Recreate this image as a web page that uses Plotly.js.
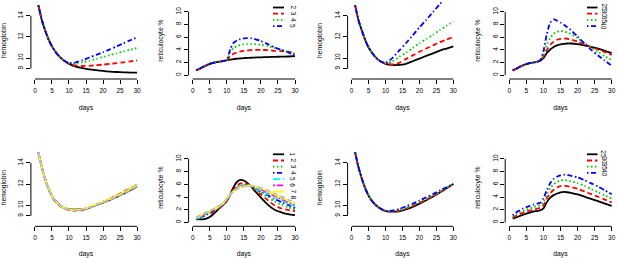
<!DOCTYPE html>
<html><head><meta charset="utf-8">
<script src="https://cdn.plot.ly/plotly-3.0.1.min.js"></script>
<style>html,body{margin:0;padding:0;background:#fff}#chart{width:617px;height:258px}</style>
</head><body><div id="chart"></div>
<script>
// ---------------- DATA ----------------
const daysHb = [1,2,3,4,5,6,7,8,9,10,12,14,16,18,20,22,24,26,28,30];
const daysRet = [1,2,3,4,5,6,7,8,9,10,11,12,13,14,15,16,17,18,20,22,24,26,28,30];

// panel 1 : hemoglobin
const p1Labels = ["2","3","4","5"];
const p1Black = [15.0,13.6,12.6,11.75,11.1,10.6,10.2,9.9,9.65,9.45,9.2,9.05,8.93,8.85,8.78,8.72,8.68,8.65,8.63,8.62];
const p1Red   = [15.0,13.6,12.6,11.75,11.1,10.6,10.2,9.9,9.65,9.47,9.3,9.25,9.27,9.32,9.38,9.45,9.52,9.6,9.68,9.78];
const p1Green = [15.0,13.6,12.6,11.75,11.1,10.6,10.2,9.9,9.66,9.5,9.5,9.6,9.75,9.92,10.1,10.28,10.45,10.62,10.78,10.95];
const p1Blue  = [15.0,13.6,12.6,11.75,11.1,10.6,10.2,9.9,9.67,9.52,9.6,9.8,10.05,10.3,10.55,10.82,11.1,11.4,11.68,11.95];

// panel 2 : reticulocyte
const p2Black = [0.8,1.0,1.3,1.55,1.8,1.95,2.05,2.15,2.25,2.35,2.45,2.55,2.6,2.65,2.7,2.72,2.75,2.78,2.82,2.86,2.9,2.92,2.95,3.0];
const p2Red   = [0.8,1.0,1.3,1.55,1.8,1.95,2.05,2.15,2.25,2.4,3.0,3.4,3.6,3.75,3.85,3.9,3.95,4.0,4.0,3.95,3.85,3.8,3.7,3.4];
const p2Green = [0.8,1.0,1.3,1.55,1.8,1.95,2.05,2.15,2.25,2.4,3.6,4.3,4.6,4.75,4.85,4.9,4.9,4.9,4.8,4.6,4.3,4.0,3.7,3.4];
const p2Blue  = [0.8,1.0,1.3,1.55,1.8,1.95,2.05,2.15,2.25,2.4,4.1,5.1,5.5,5.7,5.8,5.85,5.85,5.75,5.4,4.9,4.4,4.0,3.6,3.1];

// panel 3 : hemoglobin
const p3Black = [15.0,13.6,12.6,11.7,11.0,10.5,10.1,9.8,9.6,9.45,9.35,9.35,9.45,9.7,9.95,10.2,10.45,10.7,10.9,11.1];
const p3Red   = [15.0,13.6,12.6,11.7,11.0,10.5,10.1,9.8,9.6,9.45,9.4,9.55,9.9,10.25,10.6,10.9,11.2,11.5,11.75,12.0];
const p3Green = [15.0,13.6,12.6,11.7,11.0,10.5,10.1,9.8,9.6,9.5,9.7,10.1,10.5,10.95,11.4,11.8,12.2,12.65,13.05,13.45];
const p3Blue  = [15.0,13.6,12.6,11.7,11.0,10.5,10.1,9.8,9.62,9.55,10.0,10.7,11.4,12.15,12.9,13.6,14.35,15.1,15.8,16.5];

// panel 4 : reticulocyte
const p4Labels = ["25","30","35","40"];
const p4Black = [0.75,1.0,1.3,1.55,1.75,1.9,2.0,2.1,2.3,2.7,3.5,4.05,4.45,4.7,4.85,4.95,5.0,5.0,4.9,4.7,4.45,4.2,3.85,3.5];
const p4Red   = [0.75,1.0,1.3,1.55,1.75,1.9,2.0,2.1,2.3,2.9,4.0,4.8,5.3,5.6,5.75,5.8,5.75,5.65,5.3,4.85,4.45,4.05,3.65,3.2];
const p4Green = [0.75,1.0,1.3,1.55,1.75,1.9,2.0,2.1,2.3,3.2,4.8,5.9,6.55,6.85,6.95,6.9,6.75,6.5,5.85,5.1,4.35,3.7,3.0,2.4];
const p4Blue  = [0.75,1.0,1.3,1.55,1.75,1.9,2.0,2.1,2.3,3.8,6.5,8.3,8.8,8.6,8.3,7.95,7.55,7.15,6.1,5.0,4.0,3.1,2.3,1.5];

// panel 5 : hemoglobin, 8 series
const p5S1 = [15.0,13.6,12.45,11.55,10.85,10.4,10.1,9.85,9.7,9.62,9.6,9.62,9.78,10.02,10.25,10.5,10.78,11.08,11.42,11.78];
const p5S2 = [15.0,13.55,12.4,11.5,10.8,10.35,10.05,9.8,9.65,9.55,9.5,9.55,9.78,10.05,10.32,10.62,10.94,11.26,11.6,11.92];
const p5S3 = [15.0,13.6,12.45,11.55,10.85,10.4,10.1,9.85,9.7,9.6,9.55,9.6,9.8,10.05,10.32,10.58,10.88,11.2,11.55,11.98];
const p5S4 = [15.0,13.6,12.45,11.55,10.85,10.4,10.1,9.85,9.7,9.58,9.55,9.6,9.8,10.05,10.3,10.57,10.87,11.17,11.52,11.87];
const p5S5 = [15.0,13.6,12.45,11.55,10.85,10.4,10.1,9.85,9.7,9.6,9.58,9.62,9.8,10.05,10.3,10.55,10.85,11.15,11.5,11.85];
const p5S6 = [15.0,13.6,12.45,11.55,10.85,10.45,10.12,9.86,9.7,9.6,9.57,9.6,9.8,10.06,10.32,10.58,10.88,11.2,11.55,11.9];
const p5S7 = [15.0,13.6,12.45,11.55,10.85,10.4,10.1,9.85,9.7,9.6,9.58,9.62,9.82,10.08,10.34,10.6,10.9,11.22,11.56,11.9];
const p5S8 = [15.0,13.6,12.45,11.55,10.85,10.4,10.1,9.85,9.7,9.6,9.6,9.63,9.79,10.03,10.27,10.52,10.8,11.1,11.44,11.8];

// panel 6 : reticulocyte, 8 series
const p6Labels = ["1","2","3","4","5","6","7","8"];
const p6S1 = [0.6,0.5,0.5,0.6,0.85,1.3,1.8,2.3,2.8,3.4,4.4,5.6,6.4,6.7,6.6,6.2,5.7,5.1,3.9,2.8,2.0,1.6,1.3,1.15];
const p6S2 = [0.6,0.9,1.2,1.3,1.3,1.6,2.0,2.4,2.8,3.4,4.3,5.2,5.8,6.15,6.2,6.0,5.7,5.3,4.4,3.5,2.7,2.2,1.95,1.8];
const p6S3 = [0.4,0.6,0.9,1.2,1.5,1.8,2.1,2.5,2.9,3.5,4.3,5.0,5.5,5.8,5.9,5.85,5.65,5.35,4.7,4.0,3.3,2.8,2.4,2.1];
const p6S4 = [0.5,0.7,1.0,1.3,1.6,1.9,2.2,2.5,2.9,3.6,4.4,5.0,5.45,5.75,5.85,5.85,5.7,5.45,4.9,4.3,3.7,3.2,2.75,2.3];
const p6S5 = [0.6,0.8,1.1,1.4,1.7,2.0,2.3,2.6,3.0,3.7,4.4,5.0,5.4,5.7,5.8,5.8,5.7,5.5,5.0,4.5,3.95,3.45,3.0,2.55];
const p6S6 = [0.7,0.9,1.2,1.5,1.8,2.0,2.3,2.6,3.0,3.7,4.4,4.95,5.35,5.6,5.75,5.8,5.75,5.6,5.2,4.7,4.2,3.7,3.2,2.75];
const p6S7 = [0.7,1.0,1.3,1.6,1.8,2.1,2.3,2.6,3.0,3.7,4.4,4.9,5.3,5.55,5.7,5.8,5.8,5.7,5.35,4.9,4.4,3.9,3.4,2.9];
const p6S8 = [0.8,1.1,1.4,1.6,1.9,2.1,2.4,2.7,3.1,3.8,4.4,4.9,5.25,5.5,5.65,5.75,5.75,5.7,5.45,5.05,4.6,4.1,3.6,3.05];

// panel 7 : hemoglobin
const p7Black = [15.0,13.6,12.5,11.6,10.9,10.4,10.05,9.8,9.6,9.45,9.4,9.42,9.6,9.85,10.15,10.47,10.82,11.2,11.6,12.0];
const p7Red   = [15.0,13.6,12.5,11.6,10.9,10.4,10.05,9.8,9.6,9.45,9.42,9.48,9.68,9.93,10.22,10.52,10.87,11.22,11.6,12.0];
const p7Green = [15.0,13.6,12.5,11.6,10.9,10.4,10.05,9.8,9.6,9.46,9.45,9.55,9.75,10.0,10.3,10.6,10.92,11.25,11.62,12.0];
const p7Blue  = [15.0,13.6,12.5,11.6,10.9,10.4,10.05,9.8,9.6,9.48,9.5,9.65,9.9,10.15,10.45,10.75,11.05,11.38,11.7,12.02];

// panel 8 : reticulocyte
const p8Labels = ["25","30","35","40"];
const p8Black = [0.6,0.8,1.0,1.2,1.4,1.55,1.7,1.8,1.9,2.2,3.2,3.9,4.3,4.55,4.75,4.8,4.75,4.65,4.4,4.05,3.7,3.35,2.95,2.6];
const p8Red   = [0.75,1.05,1.3,1.5,1.7,1.85,2.0,2.15,2.3,2.7,3.8,4.6,5.15,5.5,5.7,5.75,5.7,5.6,5.3,4.9,4.45,4.05,3.6,3.15];
const p8Green = [0.9,1.3,1.6,1.8,2.0,2.2,2.4,2.55,2.7,3.2,4.4,5.4,6.0,6.35,6.6,6.65,6.6,6.5,6.2,5.75,5.25,4.75,4.25,3.75];
const p8Blue  = [1.1,1.6,1.9,2.2,2.4,2.6,2.8,2.95,3.1,3.8,5.1,6.2,6.85,7.2,7.4,7.5,7.5,7.35,7.1,6.65,6.15,5.65,5.05,4.45];

const xTicks = [0,5,10,15,20,25,30];
const hbTicks = [9,10,12,14];
const retTicks = [0,2,4,6,8,10];

// ---------------- STYLE ----------------
const W = 617, H = 258;
const FONT = "Liberation Sans, Arial, sans-serif";
const colors = ["#000000","#FF0000","#00CD00","#0000FF","#00FFFF","#FF00FF","#FFFF00","#BEBEBE"];
const dashes = ["solid","5px,3px","1.5px,2.5px","1.5px,2.5px,5px,2.5px","7px,3px","2px,2px,6px,2px","solid","5px,3px"];

const colX = [[30.9,141.1],[188.6,299.1],[347.6,457.4],[505.2,615.8]];
const rowY = [[2,79],[149,226.3]];
const hbRange = [8.02,15.3];
const retRange = [-0.6,11.55];

const panels = [
  {row:0,col:0,kind:"hb", x:daysHb, ys:[p1Black,p1Red,p1Green,p1Blue]},
  {row:0,col:1,kind:"ret",x:daysRet,ys:[p2Black,p2Red,p2Green,p2Blue],labels:p1Labels},
  {row:0,col:2,kind:"hb", x:daysHb, ys:[p3Black,p3Red,p3Green,p3Blue]},
  {row:0,col:3,kind:"ret",x:daysRet,ys:[p4Black,p4Red,p4Green,p4Blue],labels:p4Labels},
  {row:1,col:0,kind:"hb", x:daysHb, ys:[p5S1,p5S2,p5S3,p5S4,p5S5,p5S6,p5S7,p5S8]},
  {row:1,col:1,kind:"ret",x:daysRet,ys:[p6S1,p6S2,p6S3,p6S4,p6S5,p6S6,p6S7,p6S8],labels:p6Labels},
  {row:1,col:2,kind:"hb", x:daysHb, ys:[p7Black,p7Red,p7Green,p7Blue]},
  {row:1,col:3,kind:"ret",x:daysRet,ys:[p8Black,p8Red,p8Green,p8Blue],labels:p8Labels}
];

const data = [];
const layout = {
  width: W, height: H, margin:{l:0,r:0,t:0,b:0},
  paper_bgcolor:"#fff", plot_bgcolor:"#fff", showlegend:false,
  font:{family:FONT,size:6.5,color:"#000"},
  shapes:[], annotations:[]
};

panels.forEach((p,i)=>{
  const n = i+1;
  const xa = "x"+(n===1?"":n), ya = "y"+(n===1?"":n);
  const xd = colX[p.col], yd = rowY[p.row];
  layout["xaxis"+(n===1?"":n)] = {
    domain:[xd[0]/W, xd[1]/W], anchor:ya, range:[-1.2,31.2],
    tickmode:"array", tickvals:xTicks, ticks:"outside", ticklen:4, tickwidth:1, tickcolor:"#000",
    ticklabelstandoff:1,
    showgrid:false, zeroline:false, showline:false, fixedrange:true,
    tickfont:{family:FONT,size:6.5,color:"#000"},
    title:{text:"days", font:{family:FONT,size:6.8,color:"#000"}, standoff:12}
  };
  const isHb = p.kind==="hb";
  layout["yaxis"+(n===1?"":n)] = {
    domain:[1-yd[1]/H, 1-yd[0]/H], anchor:xa, range: isHb?hbRange:retRange,
    tickmode:"array", tickvals: isHb?hbTicks:retTicks, tickangle:-90,
    ticks:"outside", ticklen:4, tickwidth:1, tickcolor:"#000",
    showgrid:false, zeroline:false, showline:false, fixedrange:true,
    tickfont:{family:FONT,size:6.5,color:"#000"},
    title:{text: isHb?"hemoglobin":"reticulocyte %", font:{family:FONT,size:6.8,color:"#000"}, standoff:10}
  };
  // axis lines spanning first..last tick (R style)
  layout.shapes.push({type:"line", xref:xa, yref:ya+" domain", x0:0, x1:30, y0:0, y1:0, line:{color:"#000",width:1}});
  const tv = isHb?hbTicks:retTicks;
  layout.shapes.push({type:"line", xref:xa+" domain", yref:ya, x0:0, x1:0, y0:tv[0], y1:tv[tv.length-1], line:{color:"#000",width:1}});

  p.ys.forEach((y,k)=>{
    data.push({type:"scatter", mode:"lines", x:p.x, y:y, xaxis:xa, yaxis:ya,
      line:{color:colors[k], width:1.8, dash:dashes[k], shape:"spline", smoothing:0.6},
      hoverinfo:"skip"});
  });

  if (p.labels){
    const lineX0 = p.col===1 ? 273 : 587, lineX1 = p.col===1 ? 284 : 597.5;
    const labX = p.col===1 ? 293 : 604;
    const top = p.row===0 ? 7.5 : 154.3;
    const step = 6.2;
    p.labels.forEach((lab,k)=>{
      const yy = top + k*step;
      layout.shapes.push({type:"line", xref:"paper", yref:"paper",
        x0:lineX0/W, x1:lineX1/W, y0:1-yy/H, y1:1-yy/H,
        line:{color:colors[k], width:1.8, dash:dashes[k]}});
      layout.annotations.push({xref:"paper", yref:"paper", x:labX/W, y:1-yy/H,
        text:lab, showarrow:false, textangle:90, xanchor:"center", yanchor:"middle",
        font:{family:FONT,size:6.5,color:"#000"}});
    });
  }
});

Plotly.newPlot("chart", data, layout, {displayModeBar:false, staticPlot:true});
</script>
</body></html>
